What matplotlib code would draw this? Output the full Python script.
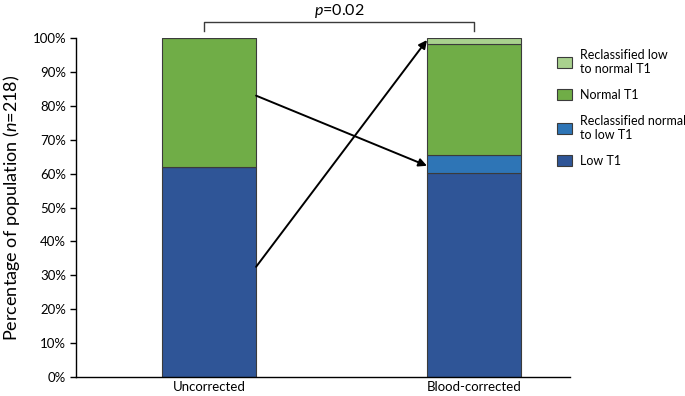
import numpy as np
import matplotlib.pyplot as plt
from matplotlib.patches import Patch

plt.rcParams['font.family'] = ['Lato', 'DejaVu Sans']
plt.rcParams['mathtext.fontset'] = 'custom'
plt.rcParams['mathtext.it'] = 'Lato:italic'
plt.rcParams['mathtext.rm'] = 'Lato'

groups = ['Uncorrected', 'Blood-corrected']
low_t1 = [61.9, 60.1]
reclass_normal_to_low = [0.0, 5.5]
normal_t1 = [38.1, 32.6]
reclass_low_to_normal = [0.0, 1.8]
series_names = ['Low T1', 'Reclassified normal\nto low T1', 'Normal T1',
                'Reclassified low\nto normal T1']
series_colors = ['#2F5597', '#2E75B6', '#70AD47', '#A9D18E']

fig = plt.figure(figsize=(6.85, 3.96), dpi=100)
ax = fig.add_axes([0.111, 0.048, 0.721, 0.856])

x = np.arange(len(groups))
bottom = np.zeros(len(groups))
handles = []
for vals, name, col in zip([low_t1, reclass_normal_to_low, normal_t1, reclass_low_to_normal],
                           series_names, series_colors):
    vals = np.array(vals)
    ax.bar(x, vals, width=0.355, bottom=bottom, color=col,
           edgecolor='#3b3b3b', linewidth=0.8)
    bottom = bottom + vals
    handles.append(Patch(facecolor=col, edgecolor='#3b3b3b', linewidth=0.8, label=name))

ax.set_xlim(-0.502, 1.362)
ax.set_ylim(0, 100)
ax.set_xticks(x)
ax.set_xticklabels(groups, fontsize=9.5)
ax.tick_params(axis='x', length=0, pad=3)
ax.set_yticks(np.arange(0, 101, 10))
ax.set_yticklabels([f'{v}%' for v in range(0, 101, 10)], fontsize=9.5)
ax.tick_params(axis='y', length=4, width=1, direction='out', pad=3)
for s in ['top', 'right']:
    ax.spines[s].set_visible(False)
ax.spines['left'].set_linewidth(1)
ax.spines['bottom'].set_linewidth(1)
ax.set_ylabel(r'Percentage of population ($\it{n}$=218)', fontsize=13, labelpad=8)

# arrows showing reclassification
hw = 0.355 / 2
arr = dict(arrowstyle='-|>', color='black', lw=1.4, mutation_scale=12,
           shrinkA=0, shrinkB=0)
ax.annotate('', xy=(1 - hw, 62.3), xytext=(hw, 83.0), arrowprops=arr,
            annotation_clip=False)
ax.annotate('', xy=(1 - hw, 99.4), xytext=(hw, 32.5), arrowprops=arr,
            annotation_clip=False)

# significance bracket
ax.plot([-0.02, -0.02, 1.0, 1.0], [102.2, 104.8, 104.8, 102.2], color='#3b3b3b',
        lw=1, clip_on=False)
ax.text(0.49, 108.0, r'$\it{p}$=0.02', ha='center', va='center', fontsize=11.5)

order = [3, 2, 1, 0]
fig.legend([handles[i] for i in order], [series_names[i] for i in order],
           loc='upper left', bbox_to_anchor=(0.797, 0.905), frameon=False,
           fontsize=9, handlelength=1.2, handleheight=0.9, labelspacing=1.12,
           handletextpad=0.6)

fig.savefig('out.png', dpi=100)
